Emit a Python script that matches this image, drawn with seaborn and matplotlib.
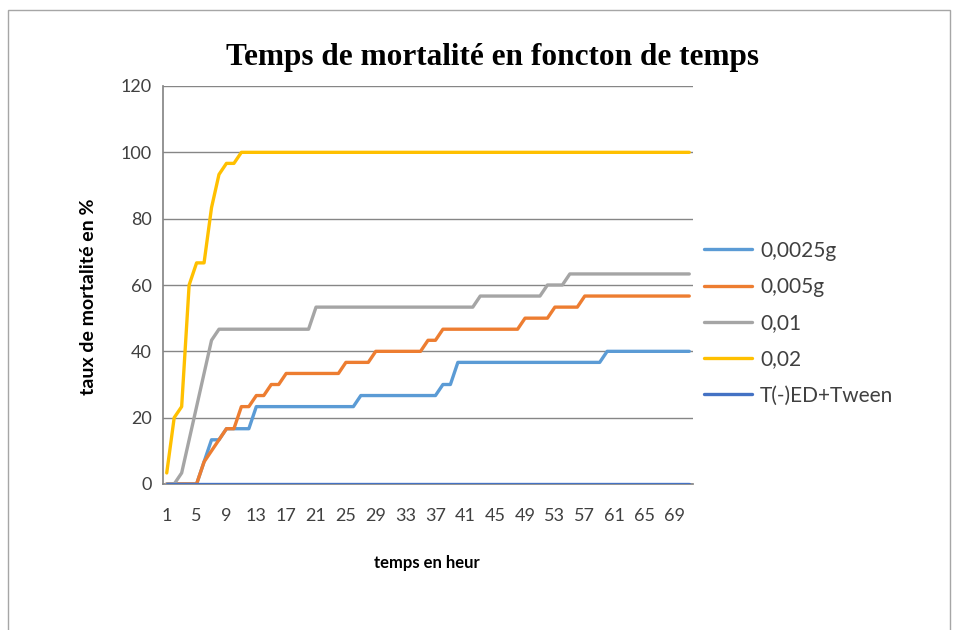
import matplotlib
matplotlib.use("Agg")
import matplotlib.pyplot as plt
from matplotlib.patches import Rectangle
import seaborn as sns
import pandas as pd

# ---------------- data ----------------
hours = list(range(1, 72))
series_names = ["0,0025g", "0,005g", "0,01", "0,02", "T(-)ED+Tween"]

s_00025 = [0, 0, 0, 0, 0, 6.67, 13.33, 13.33, 16.67, 16.67, 16.67, 16.67,
           23.33, 23.33, 23.33, 23.33, 23.33, 23.33, 23.33, 23.33, 23.33, 23.33, 23.33, 23.33,
           23.33, 23.33, 26.67, 26.67, 26.67, 26.67, 26.67, 26.67, 26.67, 26.67, 26.67, 26.67,
           26.67, 30, 30, 36.67, 36.67, 36.67, 36.67, 36.67, 36.67, 36.67, 36.67, 36.67,
           36.67, 36.67, 36.67, 36.67, 36.67, 36.67, 36.67, 36.67, 36.67, 36.67, 36.67, 40,
           40, 40, 40, 40, 40, 40, 40, 40, 40, 40, 40]
s_0005 = [0, 0, 0, 0, 0, 6.67, 10, 13.33, 16.67, 16.67, 23.33, 23.33,
          26.67, 26.67, 30, 30, 33.33, 33.33, 33.33, 33.33, 33.33, 33.33, 33.33, 33.33,
          36.67, 36.67, 36.67, 36.67, 40, 40, 40, 40, 40, 40, 40, 43.33,
          43.33, 46.67, 46.67, 46.67, 46.67, 46.67, 46.67, 46.67, 46.67, 46.67, 46.67, 46.67,
          50, 50, 50, 50, 53.33, 53.33, 53.33, 53.33, 56.67, 56.67, 56.67, 56.67,
          56.67, 56.67, 56.67, 56.67, 56.67, 56.67, 56.67, 56.67, 56.67, 56.67, 56.67]
s_001 = [0, 0, 3.33, 13.33, 23.33, 33.33, 43.33, 46.67, 46.67, 46.67, 46.67, 46.67,
         46.67, 46.67, 46.67, 46.67, 46.67, 46.67, 46.67, 46.67, 53.33, 53.33, 53.33, 53.33,
         53.33, 53.33, 53.33, 53.33, 53.33, 53.33, 53.33, 53.33, 53.33, 53.33, 53.33, 53.33,
         53.33, 53.33, 53.33, 53.33, 53.33, 53.33, 56.67, 56.67, 56.67, 56.67, 56.67, 56.67,
         56.67, 56.67, 56.67, 60, 60, 60, 63.33, 63.33, 63.33, 63.33, 63.33, 63.33,
         63.33, 63.33, 63.33, 63.33, 63.33, 63.33, 63.33, 63.33, 63.33, 63.33, 63.33]
s_002 = [3.33, 20, 23.33, 60, 66.67, 66.67, 83.33, 93.33, 96.67, 96.67, 100, 100,
         100, 100, 100, 100, 100, 100, 100, 100, 100, 100, 100, 100,
         100, 100, 100, 100, 100, 100, 100, 100, 100, 100, 100, 100,
         100, 100, 100, 100, 100, 100, 100, 100, 100, 100, 100, 100,
         100, 100, 100, 100, 100, 100, 100, 100, 100, 100, 100, 100,
         100, 100, 100, 100, 100, 100, 100, 100, 100, 100, 100]
s_ctrl = [0, 0, 0, 0, 0, 0, 0, 0, 0, 0, 0, 0,
          0, 0, 0, 0, 0, 0, 0, 0, 0, 0, 0, 0,
          0, 0, 0, 0, 0, 0, 0, 0, 0, 0, 0, 0,
          0, 0, 0, 0, 0, 0, 0, 0, 0, 0, 0, 0,
          0, 0, 0, 0, 0, 0, 0, 0, 0, 0, 0, 0,
          0, 0, 0, 0, 0, 0, 0, 0, 0, 0, 0]

y_ticks = [0, 20, 40, 60, 80, 100, 120]
x_tick_labels = [1, 5, 9, 13, 17, 21, 25, 29, 33, 37, 41, 45, 49, 53, 57, 61, 65, 69]

colors = ["#5B9BD5", "#ED7D31", "#A5A5A5", "#FFC000", "#4472C4"]

frames = []
for name, vals in zip(series_names, [s_00025, s_0005, s_001, s_002, s_ctrl]):
    frames.append(pd.DataFrame({"heure": hours, "taux": vals, "serie": name}))
df = pd.concat(frames, ignore_index=True)

# ---------------- style ----------------
sns.set_theme(style="white")
plt.rcParams["font.family"] = ["Lato", "DejaVu Sans"]

W, H = 957, 630
fig = plt.figure(figsize=(W / 100, H / 100), dpi=100)
fig.patch.set_facecolor("white")
ax = fig.add_axes([163 / W, 1 - 484 / H, 530 / W, 398 / H])

sns.lineplot(data=df, x="heure", y="taux", hue="serie", hue_order=series_names,
             palette=colors, linewidth=2.4, ax=ax, legend=True, zorder=3)

ax.set_xlim(0.5, len(hours) + 0.5)
ax.set_ylim(0, 120)
ax.set_yticks(y_ticks)
ax.set_yticklabels([str(t) for t in y_ticks], fontsize=13, color="#404040")
ax.set_xticks(x_tick_labels)
ax.set_xticklabels([str(t) for t in x_tick_labels], fontsize=13, color="#404040")
ax.set_xticks([h + 0.5 for h in [0] + hours], minor=True)
ax.tick_params(axis="x", which="major", length=0, pad=17)
ax.tick_params(axis="x", which="minor", length=6, width=1, color="#868686", direction="out")
ax.tick_params(axis="y", which="major", length=5, width=1, color="#868686", direction="out", pad=3)

ax.grid(axis="y", color="#868686", linewidth=1)
ax.set_axisbelow(True)
for s in ["top", "right"]:
    ax.spines[s].set_visible(False)
ax.spines["left"].set_color("#868686")
ax.spines["bottom"].set_color("#868686")
ax.set_xlabel("")
ax.set_ylabel("")

handles, labels = ax.get_legend_handles_labels()
ax.get_legend().remove()
for hdl in handles:
    hdl.set_linewidth(2.4)
fig.legend(handles, labels, loc="upper left", bbox_to_anchor=(685 / W, 1 - 222 / H),
           frameon=False, fontsize=15, handlelength=2.3, labelspacing=0.78,
           handletextpad=0.4, labelcolor="#404040")

fig.text(493 / W, 1 - 58 / H, "Temps de mortalité en foncton de temps",
         family=["Liberation Serif", "DejaVu Serif"], weight="bold", fontsize=22.5,
         ha="center", va="center", color="black")
fig.text(88 / W, 1 - 297 / H, "taux de mortalité en %", rotation=90,
         weight="bold", fontsize=14, ha="center", va="center", color="black")
fig.text(427 / W, 1 - 563 / H, "temps en heur", weight="bold", fontsize=12,
         ha="center", va="center", color="black")

fig.patches.append(Rectangle((8 / W, -0.02), (950 - 8) / W, 1 - 10 / H + 0.02,
                             transform=fig.transFigure, fill=False,
                             edgecolor="#A6A6A6", linewidth=1))

fig.savefig("out.png", dpi=100)
